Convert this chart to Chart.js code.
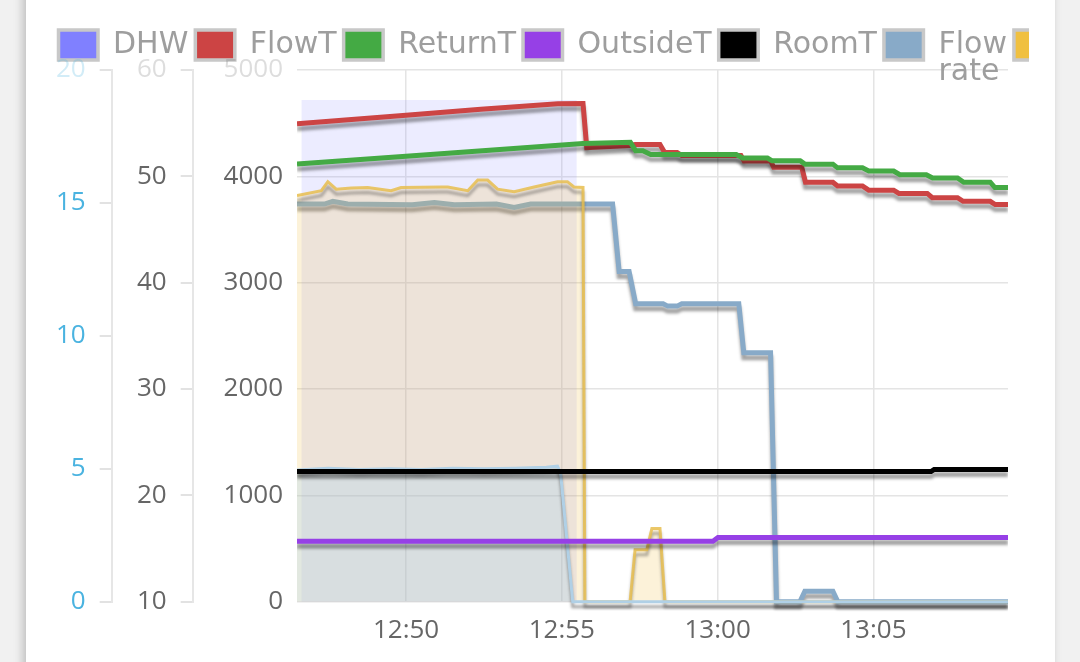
<!DOCTYPE html>
<html>
<head>
<meta charset="utf-8">
<script src="https://cdn.jsdelivr.net/npm/chart.js@4.4.1/dist/chart.umd.min.js"></script>
<style>
  html, body { margin: 0; padding: 0; width: 1080px; height: 662px; overflow: hidden; background: #f1f1f1; }
  #card { position: absolute; left: 26px; top: -40px; width: 1029px; height: 760px; background: #fff; box-shadow: -3px 0 9px rgba(0,0,0,0.22); }
  #wrap { position: absolute; left: 0; top: 40px; width: 1003px; height: 662px; overflow: hidden; }
  #c { display: block; }
</style>
</head>
<body>
<div id="card"><div id="wrap"><canvas id="c" width="1400" height="662"></canvas></div></div>
<script>
// ---- data (time = minutes after 12:00) ----
const seriesNames = ['DHW', 'FlowT', 'ReturnT', 'OutsideT', 'RoomT', 'Flow rate', 'Heat', 'Elec'];
const xTicks = [50, 55, 60, 65];
const xTickLabels = ['12:50', '12:55', '13:00', '13:05'];

const dhwTime = [46.64, 55.48];
const dhwValue = [1, 1];

const flowTTime = [46.5, 50.0, 52.4, 54.87, 55.68, 55.8, 57.2, 57.35, 58.15, 58.3, 58.7, 58.85, 60.75, 60.85, 61.7, 61.8, 62.7, 62.82, 63.7, 63.85, 64.65, 64.85, 65.65, 65.82, 66.73, 66.89, 67.7, 67.88, 68.75, 68.91, 69.32];
const flowTValue = [54.94, 55.75, 56.3, 56.82, 56.85, 52.7, 52.9, 53.0, 53.0, 52.25, 52.25, 51.95, 51.95, 51.45, 51.45, 50.85, 50.85, 49.45, 49.45, 49.1, 49.1, 48.7, 48.7, 48.4, 48.4, 48.0, 48.0, 47.65, 47.65, 47.35, 47.35];

const returnTTime = [46.5, 50.0, 55.68, 57.2, 57.37, 57.6, 57.85, 60.6, 60.8, 61.6, 61.75, 62.65, 62.8, 63.7, 63.85, 64.65, 64.85, 65.65, 65.85, 66.7, 66.9, 67.7, 67.9, 68.75, 68.9, 69.32];
const returnTValue = [51.15, 51.9, 53.1, 53.2, 52.4, 52.4, 52.05, 52.05, 51.72, 51.72, 51.46, 51.46, 51.15, 51.15, 50.8, 50.8, 50.5, 50.5, 50.15, 50.15, 49.85, 49.85, 49.45, 49.45, 48.95, 48.95];

const outsideTTime = [46.5, 59.85, 60.01, 69.32];
const outsideTValue = [15.7, 15.7, 16.05, 16.05];

const roomTTime = [46.5, 66.85, 66.95, 69.32];
const roomTValue = [22.25, 22.25, 22.45, 22.45];

const flowRateTime = [46.5, 47.38, 47.65, 48.13, 50.2, 50.91, 51.55, 52.9, 53.47, 54.0, 56.63, 56.84, 57.16, 57.37, 58.25, 58.4, 58.7, 58.85, 60.68, 60.84, 61.7, 61.89, 62.64, 62.8, 63.7, 63.86, 69.32];
const flowRateValue = [14.96, 14.96, 15.06, 14.96, 14.93, 15.02, 14.93, 14.96, 14.83, 14.96, 14.96, 12.42, 12.42, 11.21, 11.21, 11.12, 11.12, 11.21, 11.21, 9.37, 9.37, 0, 0, 0.4, 0.4, 0, 0];

const heatTime = [46.5, 47.28, 47.49, 47.76, 48.24, 48.77, 49.52, 49.84, 51.12, 51.34, 51.98, 52.30, 52.62, 52.94, 53.47, 54.11, 54.86, 55.18, 55.39, 55.68, 55.74, 57.19, 57.35, 57.73, 57.89, 58.15, 58.31, 69.32];
const heatValue = [3820, 3865, 3950, 3880, 3890, 3895, 3865, 3895, 3900, 3900, 3865, 3965, 3965, 3880, 3855, 3900, 3950, 3950, 3900, 3895, 0, 0, 490, 490, 690, 690, 0, 0];

const elecTime = [46.5, 47.5, 48.5, 49.5, 50.5, 51.5, 52.5, 53.5, 54.5, 54.86, 54.96, 55.35, 69.32];
const elecValue = [1240, 1255, 1245, 1250, 1245, 1255, 1250, 1255, 1265, 1275, 1210, 0, 0];

// ---- styling ----
const legendColors = ['#8080ff', '#cc4444', '#44aa44', '#9640e6', '#000000', '#88aac8', '#f0c040', '#a8c8dc'];

function pts(ts, vs) { return ts.map((t, i) => ({ x: t, y: vs[i] })); }
function legendText(name) {
  if (name.indexOf(' ') < 0) return name;
  const arr = name.split(' ');
  arr.toString = function () { return this[0]; };
  return arr;
}

const shadowPlugin = {
  id: 'lineShadow',
  beforeDatasetDraw(chart) {
    const c = chart.ctx;
    c.save();
    c.shadowColor = 'rgba(0,0,0,0.36)';
    c.shadowBlur = 3;
    c.shadowOffsetX = 0;
    c.shadowOffsetY = 5;
  },
  afterDatasetDraw(chart) { chart.ctx.restore(); }
};

// legend text of the two-line label may run below the legend box, as in the source
const legendNoClip = {
  id: 'legendNoClip',
  beforeDraw(chart) {
    const lg = chart.legend;
    if (lg && !lg._noClip) {
      lg._noClip = true;
      lg.draw = function () { if (this.options.display) this._draw(); };
    }
  }
};

const tickFont = { family: 'Open Sans', size: 26 };
const plain = (v) => '' + v;
const base = { pointRadius: 0, pointHoverRadius: 0, tension: 0, clip: { left: 0, right: 0, top: 6, bottom: 10 } };

new Chart(document.getElementById('c'), {
  type: 'line',
  data: {
    datasets: [
      Object.assign({}, base, { label: seriesNames[0], data: pts(dhwTime, dhwValue), yAxisID: 'yDhw', order: 8,
        borderColor: 'transparent', borderWidth: 0, backgroundColor: 'rgba(128,128,255,0.15)', fill: 'origin' }),
      Object.assign({}, base, { label: seriesNames[1], data: pts(flowTTime, flowTValue), yAxisID: 'yT', order: 2,
        borderColor: '#cc4444', borderWidth: 5, fill: false }),
      Object.assign({}, base, { label: seriesNames[2], data: pts(returnTTime, returnTValue), yAxisID: 'yT', order: 1,
        borderColor: '#44aa44', borderWidth: 5, fill: false }),
      Object.assign({}, base, { label: seriesNames[3], data: pts(outsideTTime, outsideTValue), yAxisID: 'yT', order: 3,
        borderColor: '#9640e6', borderWidth: 5, fill: false }),
      Object.assign({}, base, { label: seriesNames[4], data: pts(roomTTime, roomTValue), yAxisID: 'yT', order: 4,
        borderColor: '#000000', borderWidth: 5, fill: false }),
      Object.assign({}, base, { label: seriesNames[5], data: pts(flowRateTime, flowRateValue), yAxisID: 'yF', order: 7,
        borderColor: '#88aac8', borderWidth: 5, fill: false }),
      Object.assign({}, base, { label: seriesNames[6], data: pts(heatTime, heatValue), yAxisID: 'yW', order: 6,
        borderColor: 'rgba(232,190,80,0.85)', borderWidth: 3, backgroundColor: 'rgba(240,192,64,0.2)', fill: 'origin' }),
      Object.assign({}, base, { label: seriesNames[7], data: pts(elecTime, elecValue), yAxisID: 'yW', order: 5,
        borderColor: '#b0d0e6', borderWidth: 3, backgroundColor: 'rgba(166,208,238,0.3)', fill: 'origin' })
    ]
  },
  options: {
    responsive: false,
    animation: false,
    events: [],
    layout: { padding: { left: 25.5, top: 23, right: 0, bottom: 3 } },
    plugins: {
      tooltip: { enabled: false },
      legend: {
        position: 'top',
        align: 'start',
        labels: {
          boxWidth: 39.5,
          boxHeight: 30,
          padding: 7,
          color: '#9e9e9e',
          font: { family: 'DejaVu Sans', size: 30, lineHeight: 0.9 },
          generateLabels: (chart) => chart.data.datasets.map((ds, i) => ({
            text: legendText(seriesNames[i]),
            fillStyle: legendColors[i],
            strokeStyle: '#c8c8c8',
            lineWidth: 3.5,
            hidden: false,
            datasetIndex: i,
            fontColor: '#9e9e9e'
          }))
        }
      }
    },
    scales: {
      x: {
        type: 'linear',
        position: 'bottom',
        min: 46.5,
        max: 69.32,
        afterBuildTicks: (s) => { s.ticks = xTicks.map(v => ({ value: v })); },
        ticks: { callback: (v, i) => xTickLabels[i], color: '#666', font: tickFont, padding: 13, maxRotation: 0, autoSkip: false },
        grid: { color: '#e4e4e4', lineWidth: 1.5, drawTicks: false },
        border: { display: false }
      },
      yW: {
        type: 'linear', position: 'left', weight: 0, min: 0, max: 5000,
        ticks: { stepSize: 1000, font: tickFont, padding: 14, callback: plain,
          color: (c) => c.tick && c.tick.value === 5000 ? 'rgba(102,102,102,0.22)' : '#666' },
        grid: { color: '#e4e4e4', lineWidth: 1.5, drawTicks: false },
        border: { display: false },
        afterFit: (s) => { s.width = 104.3; }
      },
      yT: {
        type: 'linear', position: 'left', weight: 1, min: 10, max: 60,
        ticks: { stepSize: 10, font: tickFont, padding: 14, callback: plain,
          color: (c) => c.tick && c.tick.value === 60 ? 'rgba(102,102,102,0.22)' : '#666' },
        grid: { drawOnChartArea: false, drawTicks: true, tickLength: 12, color: '#e2e2e2', lineWidth: 2 },
        border: { display: true, color: '#e6e6e6', width: 2 },
        afterFit: (s) => { s.width = 81; }
      },
      yF: {
        type: 'linear', position: 'left', weight: 2, min: 0, max: 20,
        ticks: { stepSize: 5, font: tickFont, padding: 14, callback: plain,
          color: (c) => c.tick && c.tick.value === 20 ? 'rgba(74,179,224,0.25)' : '#4ab3e0' },
        grid: { drawOnChartArea: false, drawTicks: true, tickLength: 12, color: '#e2e2e2', lineWidth: 2 },
        border: { display: true, color: '#e6e6e6', width: 2 },
        afterFit: (s) => { s.width = 60.2; }
      },
      yDhw: {
        type: 'linear', position: 'right', min: 0, max: 1.06,
        ticks: { display: false },
        grid: { display: false },
        border: { display: false },
        afterFit: (s) => { s.width = 418; }
      }
    }
  },
  plugins: [shadowPlugin, legendNoClip]
});
</script>
</body>
</html>
